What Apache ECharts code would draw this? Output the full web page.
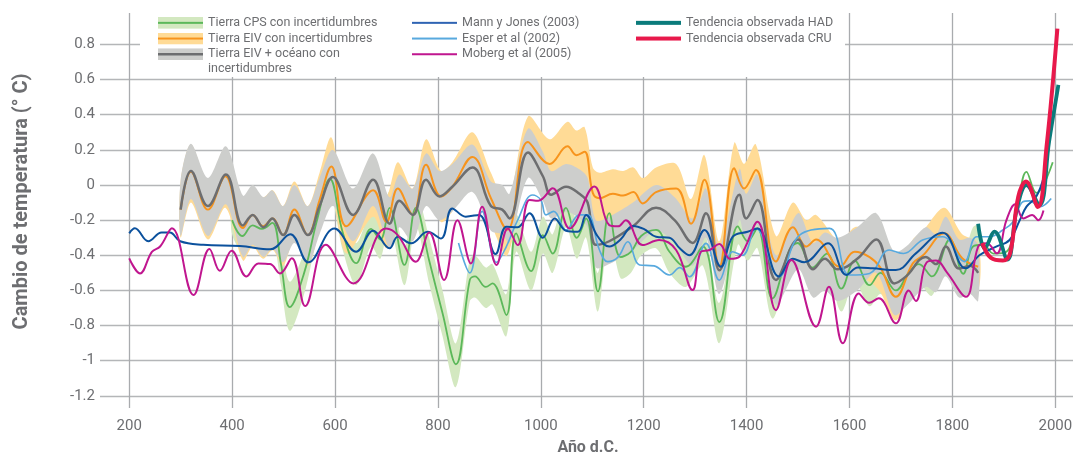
<!DOCTYPE html>
<html>
<head>
<meta charset="utf-8">
<script src="https://cdn.jsdelivr.net/npm/echarts@6/dist/echarts.min.js"></script>
<style>
  html, body { margin: 0; padding: 0; background: #fff; }
  #chart { width: 1073px; height: 454px; }
</style>
</head>
<body>
<div id="chart"></div>
<script>
// tick labels
var xTicks = [200, 400, 600, 800, 1000, 1200, 1400, 1600, 1800, 2000];
var yTicks = [-1.2, -1, -0.8, -0.6, -0.4, -0.2, 0, 0.2, 0.4, 0.6, 0.8];

// [año, cambio de temperatura]
var cpsLine = [[400,-0.2],[420,-0.29],[440,-0.23],[458,-0.25],[478,-0.215],[495,-0.45],[512,-0.695],[540,-0.5],[565,-0.2],[590,0.035],[615,-0.27],[641,-0.445],[670,-0.25],[688,-0.31],[706,-0.13],[735,-0.455],[757,-0.13],[783,-0.43],[809,-0.73],[835,-1.02],[862,-0.54],[872,-0.52],[893,-0.58],[906,-0.56],[933,-0.74],[952,-0.275],[981,-0.49],[1004,-0.285],[1023,-0.39],[1049,-0.13],[1070,-0.3],[1088,-0.19],[1111,-0.605],[1133,-0.16],[1155,-0.41],[1175,-0.38],[1195,-0.29],[1224,-0.255],[1250,-0.38],[1282,-0.465],[1315,-0.35],[1347,-0.78],[1383,-0.235],[1402,-0.32],[1421,-0.245],[1450,-0.645],[1483,-0.37],[1499,-0.33],[1528,-0.47],[1556,-0.39],[1584,-0.59],[1610,-0.43],[1639,-0.57],[1660,-0.5],[1690,-0.6],[1715,-0.5],[1735,-0.45],[1760,-0.52],[1795,-0.31],[1821,-0.505],[1840,-0.35],[1860,-0.34],[1880,-0.39],[1905,-0.38],[1925,-0.15],[1944,0.075],[1963,-0.045],[1995,0.13]];
// [año, inferior, superior]
var cpsBand = [[400,-0.28,-0.12],[420,-0.38,-0.2],[440,-0.32,-0.15],[458,-0.34,-0.17],[478,-0.30,-0.13],[495,-0.57,-0.33],[512,-0.83,-0.55],[540,-0.62,-0.38],[565,-0.3,-0.1],[590,-0.05,0.12],[615,-0.37,-0.17],[641,-0.57,-0.33],[670,-0.35,-0.15],[688,-0.42,-0.2],[706,-0.22,-0.04],[735,-0.57,-0.35],[757,-0.23,-0.04],[783,-0.56,-0.3],[809,-0.86,-0.6],[835,-1.15,-0.9],[862,-0.66,-0.42],[872,-0.64,-0.4],[893,-0.70,-0.47],[906,-0.68,-0.45],[933,-0.86,-0.62],[952,-0.38,-0.17],[981,-0.6,-0.38],[1004,-0.39,-0.18],[1023,-0.5,-0.28],[1049,-0.24,-0.02],[1070,-0.42,-0.2],[1088,-0.3,-0.08],[1111,-0.72,-0.5],[1133,-0.27,-0.05],[1155,-0.53,-0.3],[1175,-0.5,-0.27],[1195,-0.4,-0.18],[1224,-0.36,-0.15],[1250,-0.5,-0.27],[1282,-0.58,-0.35],[1315,-0.46,-0.24],[1347,-0.9,-0.67],[1383,-0.34,-0.13],[1402,-0.43,-0.21],[1421,-0.36,-0.14],[1450,-0.76,-0.53],[1483,-0.48,-0.26],[1499,-0.44,-0.22],[1528,-0.59,-0.36],[1556,-0.5,-0.28],[1584,-0.72,-0.48],[1610,-0.55,-0.32],[1639,-0.69,-0.46],[1660,-0.62,-0.39],[1690,-0.72,-0.49],[1715,-0.62,-0.39],[1735,-0.56,-0.34],[1760,-0.63,-0.41],[1795,-0.42,-0.2],[1821,-0.62,-0.39],[1840,-0.46,-0.24],[1852,-0.45,-0.23]];

var eivLine = [[300,-0.14],[320,0.075],[353,-0.14],[387,0.05],[421,-0.245],[440,-0.17],[460,-0.235],[479,-0.19],[499,-0.285],[521,-0.14],[547,-0.285],[570,-0.085],[593,0.105],[622,-0.235],[674,-0.03],[700,-0.21],[722,-0.02],[751,-0.17],[777,0.115],[806,-0.065],[828,-0.01],[867,0.16],[903,-0.075],[935,-0.255],[975,0.245],[1017,0.12],[1052,0.22],[1069,0.17],[1085,0.19],[1101,-0.045],[1114,-0.075],[1140,-0.05],[1160,-0.06],[1180,-0.04],[1198,-0.105],[1224,-0.04],[1263,-0.02],[1292,-0.22],[1318,0.03],[1347,-0.465],[1376,0.095],[1395,-0.02],[1418,0.085],[1457,-0.435],[1490,-0.24],[1516,-0.35],[1535,-0.31],[1581,-0.465],[1610,-0.38],[1639,-0.41],[1660,-0.47],[1690,-0.636],[1723,-0.446],[1743,-0.4],[1784,-0.275],[1819,-0.417],[1850,-0.465]];
var eivBand = [[300,-0.3,0.02],[320,-0.1,0.23],[353,-0.31,0.02],[387,-0.13,0.21],[421,-0.43,-0.08],[440,-0.35,-0.01],[460,-0.42,-0.07],[479,-0.37,-0.03],[499,-0.46,-0.12],[521,-0.31,0.02],[547,-0.46,-0.12],[570,-0.25,0.07],[593,-0.06,0.27],[622,-0.39,-0.08],[674,-0.18,0.12],[700,-0.36,-0.06],[722,-0.17,0.13],[751,-0.32,-0.02],[777,-0.03,0.26],[806,-0.21,0.08],[828,-0.15,0.13],[867,0.02,0.3],[903,-0.22,0.07],[935,-0.4,-0.11],[975,0.1,0.39],[1017,-0.02,0.26],[1052,0.08,0.36],[1069,0.03,0.31],[1085,0.05,0.33],[1101,-0.19,0.1],[1114,-0.22,0.07],[1140,-0.19,0.09],[1160,-0.2,0.08],[1180,-0.18,0.1],[1198,-0.25,0.04],[1224,-0.18,0.1],[1263,-0.16,0.12],[1292,-0.36,-0.08],[1318,-0.11,0.17],[1347,-0.61,-0.32],[1376,-0.05,0.24],[1395,-0.16,0.12],[1418,-0.06,0.23],[1457,-0.58,-0.29],[1490,-0.38,-0.1],[1516,-0.49,-0.2],[1535,-0.46,-0.17],[1581,-0.61,-0.32],[1610,-0.53,-0.24],[1639,-0.55,-0.26],[1660,-0.61,-0.33],[1690,-0.77,-0.5],[1723,-0.59,-0.31],[1743,-0.54,-0.26],[1784,-0.41,-0.13],[1819,-0.55,-0.28],[1850,-0.6,-0.33]];

var oceanLine = [[300,-0.14],[320,0.08],[353,-0.12],[388,0.06],[421,-0.23],[440,-0.17],[461,-0.24],[478,-0.19],[499,-0.285],[521,-0.17],[547,-0.285],[570,-0.12],[596,0.045],[635,-0.17],[674,0.03],[706,-0.22],[725,-0.09],[751,-0.17],[777,0.03],[803,-0.065],[828,-0.01],[867,0.10],[903,-0.12],[925,-0.14],[939,-0.19],[975,0.185],[1004,0.05],[1020,-0.055],[1049,-0.01],[1075,-0.05],[1091,-0.10],[1107,-0.34],[1133,-0.32],[1179,-0.235],[1224,-0.13],[1260,-0.2],[1295,-0.33],[1321,-0.16],[1347,-0.485],[1386,-0.055],[1399,-0.19],[1421,-0.085],[1457,-0.54],[1500,-0.31],[1529,-0.48],[1552,-0.42],[1577,-0.48],[1615,-0.42],[1652,-0.31],[1687,-0.56],[1710,-0.52],[1748,-0.41],[1768,-0.45],[1787,-0.35],[1813,-0.475],[1834,-0.46],[1850,-0.5]];
var oceanBand = [[300,-0.29,0.03],[320,-0.08,0.235],[353,-0.29,0.04],[388,-0.11,0.22],[421,-0.41,-0.06],[440,-0.34,0.0],[461,-0.41,-0.07],[478,-0.36,-0.03],[499,-0.44,-0.12],[521,-0.33,0.0],[547,-0.45,-0.12],[570,-0.28,0.04],[596,-0.12,0.2],[635,-0.32,-0.02],[674,-0.12,0.18],[706,-0.36,-0.07],[725,-0.24,0.06],[751,-0.32,-0.02],[777,-0.12,0.18],[803,-0.2,0.08],[828,-0.15,0.12],[867,-0.04,0.23],[903,-0.26,0.02],[925,-0.28,0.0],[939,-0.33,-0.05],[975,0.04,0.32],[1004,-0.09,0.19],[1020,-0.19,0.08],[1049,-0.15,0.12],[1075,-0.19,0.09],[1091,-0.24,0.04],[1107,-0.47,-0.2],[1133,-0.45,-0.18],[1179,-0.37,-0.1],[1224,-0.26,0.0],[1260,-0.33,-0.07],[1295,-0.46,-0.19],[1321,-0.3,-0.02],[1347,-0.62,-0.35],[1386,-0.2,0.09],[1399,-0.33,-0.05],[1421,-0.23,0.06],[1457,-0.68,-0.4],[1500,-0.48,-0.16],[1529,-0.64,-0.33],[1552,-0.6,-0.27],[1577,-0.66,-0.3],[1615,-0.6,-0.24],[1652,-0.5,-0.16],[1687,-0.74,-0.38],[1710,-0.69,-0.35],[1748,-0.58,-0.24],[1768,-0.61,-0.28],[1787,-0.52,-0.18],[1813,-0.64,-0.31],[1834,-0.62,-0.3],[1850,-0.66,-0.34]];

var mannJones = [[200,-0.275],[211,-0.246],[237,-0.32],[263,-0.27],[279,-0.27],[299,-0.32],[344,-0.34],[415,-0.347],[474,-0.366],[513,-0.28],[548,-0.44],[599,-0.247],[641,-0.38],[674,-0.26],[706,-0.36],[722,-0.294],[748,-0.332],[780,-0.266],[806,-0.304],[828,-0.133],[854,-0.18],[880,-0.17],[912,-0.393],[933,-0.237],[955,-0.24],[978,-0.16],[1004,-0.30],[1027,-0.19],[1049,-0.26],[1072,-0.266],[1088,-0.17],[1110,-0.29],[1133,-0.35],[1155,-0.31],[1179,-0.233],[1200,-0.25],[1224,-0.294],[1250,-0.3],[1270,-0.36],[1289,-0.4],[1318,-0.256],[1350,-0.465],[1373,-0.294],[1402,-0.266],[1421,-0.247],[1463,-0.52],[1490,-0.42],[1512,-0.44],[1558,-0.332],[1594,-0.512],[1616,-0.469],[1645,-0.474],[1690,-0.484],[1729,-0.389],[1781,-0.271],[1826,-0.474],[1853,-0.398],[1885,-0.351],[1911,-0.313],[1931,-0.2],[1944,-0.123],[1963,-0.066],[1978,0.05]];
var esper = [[840,-0.33],[862,-0.5],[886,-0.15],[914,-0.44],[933,-0.35],[955,-0.2],[984,-0.057],[1000,-0.085],[1010,-0.17],[1025,-0.15],[1049,-0.256],[1075,-0.17],[1091,-0.17],[1114,-0.37],[1130,-0.436],[1150,-0.41],[1169,-0.323],[1192,-0.455],[1220,-0.46],[1250,-0.512],[1270,-0.47],[1289,-0.522],[1321,-0.332],[1347,-0.541],[1373,-0.38],[1392,-0.4],[1418,-0.247],[1463,-0.522],[1503,-0.285],[1561,-0.247],[1600,-0.512],[1639,-0.503],[1677,-0.37],[1705,-0.39],[1742,-0.313],[1781,-0.294],[1823,-0.436],[1847,-0.294],[1872,-0.294],[1898,-0.256],[1918,-0.209],[1937,-0.095],[1950,-0.09],[1970,-0.123],[1992,-0.076]];
var moberg = [[200,-0.417],[221,-0.503],[244,-0.38],[260,-0.35],[283,-0.246],[325,-0.626],[356,-0.364],[376,-0.488],[399,-0.374],[428,-0.52],[451,-0.446],[474,-0.45],[493,-0.503],[516,-0.417],[542,-0.689],[582,-0.34],[636,-0.56],[699,-0.247],[722,-0.285],[757,-0.436],[783,-0.27],[812,-0.54],[838,-0.2],[864,-0.446],[886,-0.123],[914,-0.455],[936,-0.247],[955,-0.342],[978,-0.085],[995,-0.09],[1023,-0.019],[1056,-0.247],[1104,-0.009],[1133,-0.228],[1150,-0.235],[1165,-0.2],[1198,-0.342],[1230,-0.313],[1263,-0.37],[1295,-0.598],[1311,-0.38],[1328,-0.37],[1347,-0.336],[1368,-0.42],[1386,-0.408],[1421,-0.209],[1457,-0.712],[1487,-0.427],[1535,-0.806],[1560,-0.579],[1587,-0.901],[1618,-0.617],[1638,-0.67],[1657,-0.645],[1690,-0.787],[1715,-0.6],[1729,-0.66],[1750,-0.44],[1768,-0.43],[1790,-0.5],[1826,-0.636],[1850,-0.351],[1867,-0.332],[1886,-0.389],[1905,-0.2],[1922,-0.11],[1938,-0.19],[1955,-0.17],[1967,-0.2],[1977,-0.145]];
var hadTrend = [[1850,-0.22],[1863,-0.36],[1882,-0.265],[1907,-0.425],[1925,-0.14],[1944,0.0],[1969,-0.115],[1988,0.25],[2006,0.57]];
var cruTrend = [[1858,-0.33],[1875,-0.415],[1898,-0.43],[1912,-0.39],[1928,-0.066],[1943,0.02],[1966,-0.125],[1983,0.22],[2004,0.89]];

var textColor = '#6d6e71';
var font = 'Roboto';

var names = {
  cps: 'Tierra CPS con incertidumbres',
  eiv: 'Tierra EIV con incertidumbres',
  ocean: 'Tierra EIV + océano con incertidumbres',
  mann: 'Mann y Jones (2003)',
  esper: 'Esper et al (2002)',
  moberg: 'Moberg et al (2005)',
  had: 'Tendencia observada HAD',
  cru: 'Tendencia observada CRU'
};

// legend icons drawn as small svg pictures
function icon(bandColor, lineColor, lineW) {
  var svg = "<svg xmlns='http://www.w3.org/2000/svg' width='45' height='12'>" +
    (bandColor ? "<rect width='45' height='12' fill='" + bandColor + "'/>" : "") +
    "<rect y='" + (6 - lineW / 2) + "' width='45' height='" + lineW + "' fill='" + lineColor + "'/></svg>";
  return 'image://data:image/svg+xml;charset=utf-8,' + encodeURIComponent(svg);
}

function band(data, color) {
  return {
    type: 'custom',
    silent: true,
    data: [[data[0][0], data[0][1]]],
    renderItem: function (params, api) {
      var top = data.map(function (d) { return api.coord([d[0], d[2]]); });
      var bottom = data.slice().reverse().map(function (d) { return api.coord([d[0], d[1]]); });
      return {
        type: 'polygon',
        shape: { points: top.concat(bottom), smooth: 0.3 },
        style: { fill: color }
      };
    }
  };
}

function line(name, data, color, width) {
  return {
    name: name,
    type: 'line',
    data: data,
    smooth: 0.4,
    symbol: 'none',
    silent: true,
    lineStyle: { color: color, width: width },
    itemStyle: { color: color }
  };
}

var legendBase = {
  orient: 'vertical',
  top: 15,
  padding: 0,
  itemGap: 0,
  itemWidth: 45,
  itemHeight: 12,
  selectedMode: false,
  textStyle: { color: textColor, fontFamily: font, fontSize: 12.5, lineHeight: 15.7 }
};

var chart = echarts.init(document.getElementById('chart'));
chart.setOption({
  animation: false,
  grid: { left: 100, right: -3, top: 13, bottom: 46, outerBoundsMode: 'none', containLabel: false },
  xAxis: {
    type: 'value',
    min: 143.2,
    max: 2040.2,
    minInterval: 200,
    maxInterval: 200,
    splitNumber: 10,
    name: 'Año d.C.',
    nameLocation: 'middle',
    nameGap: 32,
    nameTextStyle: { color: textColor, fontFamily: font, fontSize: 16, fontWeight: 'bold' },
    axisLine: { show: false },
    axisTick: { show: false },
    axisLabel: {
      color: textColor, fontFamily: font, fontSize: 15, margin: 11,
      showMinLabel: false, showMaxLabel: false,
      formatter: function (v) { return xTicks.indexOf(Math.round(v)) >= 0 ? String(Math.round(v)) : ''; }
    },
    splitLine: { show: true, showMinLine: false, showMaxLine: false, lineStyle: { color: '#a9abae', width: 1.3 } }
  },
  yAxis: {
    type: 'value',
    min: -1.269,
    max: 0.979,
    minInterval: 0.2,
    maxInterval: 0.2,
    splitNumber: 11,
    name: 'Cambio de temperatura (° C)',
    nameLocation: 'middle',
    nameGap: 68,
    nameTextStyle: { color: textColor, fontFamily: font, fontSize: 20, fontWeight: 'bold', padding: [0, 0, 0, 18] },
    axisLine: { show: false },
    axisTick: { show: false },
    axisLabel: {
      color: textColor, fontFamily: font, fontSize: 15, margin: 5,
      showMinLabel: false, showMaxLabel: false,
      formatter: function (v) {
        var r = Math.round(v * 10) / 10;
        return yTicks.indexOf(r) >= 0 ? String(r) : '';
      }
    },
    splitLine: { show: true, showMinLine: false, showMaxLine: false, lineStyle: { color: '#b4b6b8', width: 1.3 } }
  },
  graphic: [
    { type: 'rect', left: 140, top: 0, z: 1, shape: { width: 705, height: 77 }, style: { fill: '#fff' } },
    { type: 'text', left: 208, top: 62, z: 5, style: { text: 'incertidumbres', fill: textColor, font: '12.5px ' + font } }
  ],
  legend: [
    Object.assign({}, legendBase, {
      left: 158,
      formatter: function (n) { return n === names.ocean ? 'Tierra EIV + océano con' : n; },
      data: [
        { name: names.cps, icon: icon('#d3e8c0', '#5cb85a', 2) },
        { name: names.eiv, icon: icon('#ffdb96', '#f7941d', 2) },
        { name: names.ocean, icon: icon('#cdcecc', '#6d6e70', 2.5) }
      ]
    }),
    Object.assign({}, legendBase, {
      left: 412,
      data: [
        { name: names.mann, icon: icon(null, '#2f64b3', 2) },
        { name: names.esper, icon: icon(null, '#58a9de', 2) },
        { name: names.moberg, icon: icon(null, '#c0168f', 2) }
      ]
    }),
    Object.assign({}, legendBase, {
      left: 636,
      data: [
        { name: names.had, icon: icon(null, '#0b7b7b', 4) },
        { name: names.cru, icon: icon(null, '#e8194b', 4) }
      ]
    })
  ],
  series: [
    band(cpsBand, '#d3e8c0'),
    band(eivBand, '#ffdb96'),
    band(oceanBand, '#cdcecc'),
    line(names.cps, cpsLine, '#5cb85a', 1.8),
    line(names.eiv, eivLine, '#f7941d', 2),
    line(names.ocean, oceanLine, '#6d6e70', 2.5),
    line(names.esper, esper, '#58a9de', 1.6),
    line(names.mann, mannJones, '#0b519d', 2),
    line(names.moberg, moberg, '#c0168f', 2),
    line(names.had, hadTrend, '#0b7b7b', 3.8),
    line(names.cru, cruTrend, '#e8194b', 4)
  ]
});
</script>
</body>
</html>
